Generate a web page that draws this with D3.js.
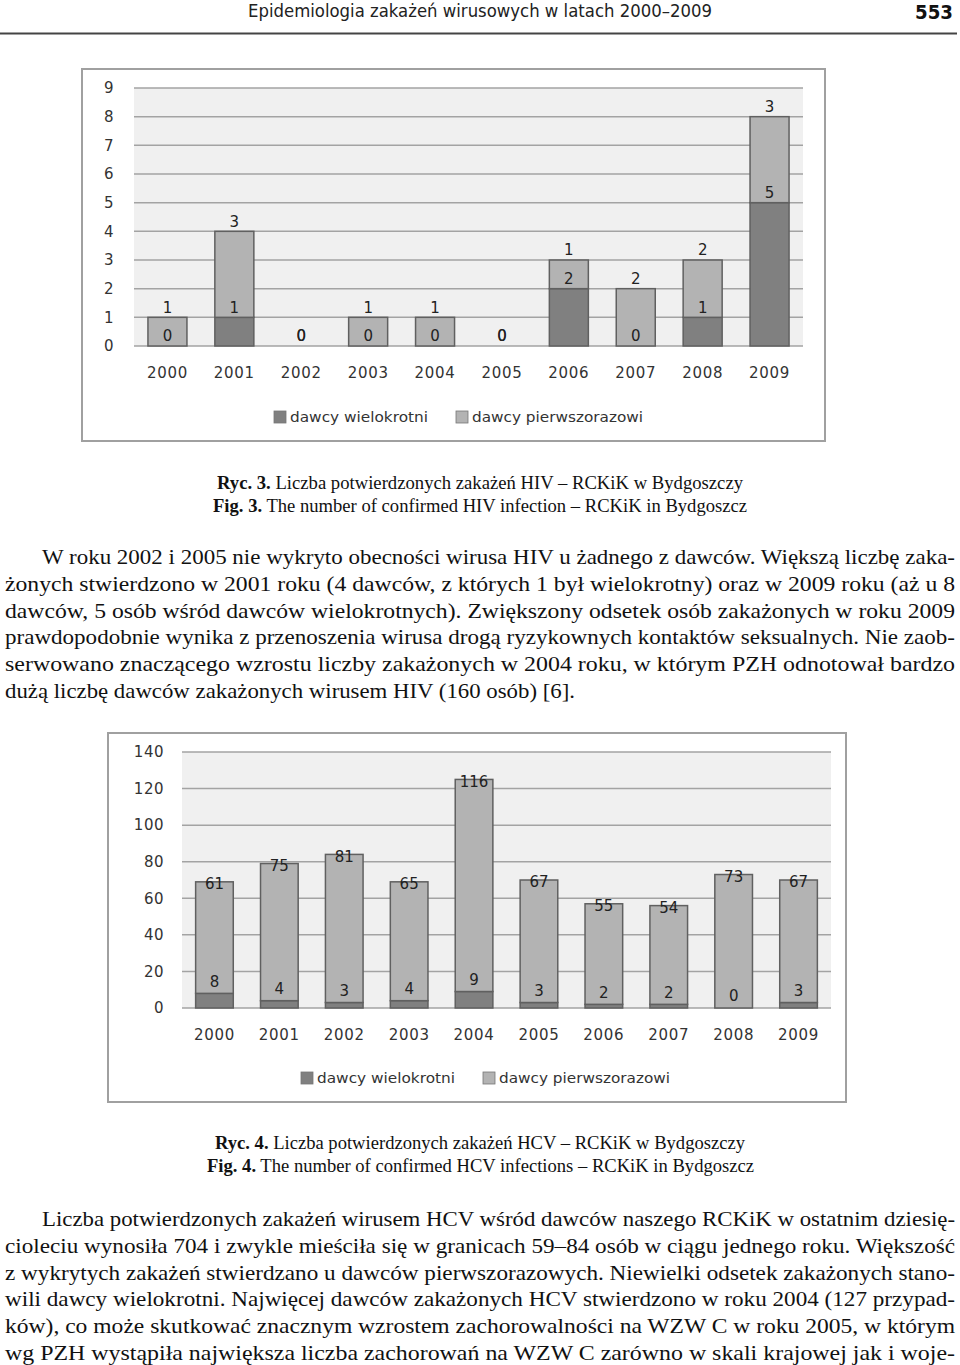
<!DOCTYPE html>
<html><head><meta charset="utf-8">
<script src="https://cdn.jsdelivr.net/npm/d3@7"></script>
<style>html,body{margin:0;padding:0;background:#fff;}svg{display:block;}</style>
</head><body>
<script>
// ---------- data ----------
const years = ["2000","2001","2002","2003","2004","2005","2006","2007","2008","2009"];
const hivRepeat = [0,1,0,0,0,0,2,0,1,5];        // dawcy wielokrotni
const hivFirst  = [1,3,0,1,1,0,1,2,2,3];        // dawcy pierwszorazowi
const hivTicks  = [0,1,2,3,4,5,6,7,8,9];
const hcvRepeat = [8,4,3,4,9,3,2,2,0,3];
const hcvFirst  = [61,75,81,65,116,67,55,54,73,67];
const hcvTicks  = [0,20,40,60,80,100,120,140];
const seriesNames = ["dawcy wielokrotni","dawcy pierwszorazowi"];

const headerTitle = "Epidemiologia zakażeń wirusowych w latach 2000–2009";
const pageNumber = "553";
const caption3 = [["Ryc. 3.", " Liczba potwierdzonych zakażeń HIV – RCKiK w Bydgoszczy"],
                  ["Fig. 3.", " The number of confirmed HIV infection – RCKiK in Bydgoszcz"]];
const caption4 = [["Ryc. 4.", " Liczba potwierdzonych zakażeń HCV – RCKiK w Bydgoszczy"],
                  ["Fig. 4.", " The number of confirmed HCV infections – RCKiK in Bydgoszcz"]];
const para1 = [
 "W roku 2002 i 2005 nie wykryto obecności wirusa HIV u żadnego z dawców. Większą liczbę zaka-",
 "żonych stwierdzono w 2001 roku (4 dawców, z których 1 był wielokrotny) oraz w 2009 roku (aż u 8",
 "dawców, 5 osób wśród dawców wielokrotnych). Zwiększony odsetek osób zakażonych w roku 2009",
 "prawdopodobnie wynika z przenoszenia wirusa drogą ryzykownych kontaktów seksualnych. Nie zaob-",
 "serwowano znaczącego wzrostu liczby zakażonych w 2004 roku, w którym PZH odnotował bardzo",
 "dużą liczbę dawców zakażonych wirusem HIV (160 osób) [6]."
];
const para2 = [
 "Liczba potwierdzonych zakażeń wirusem HCV wśród dawców naszego RCKiK w ostatnim dziesię-",
 "cioleciu wynosiła 704 i zwykle mieściła się w granicach 59–84 osób w ciągu jednego roku. Większość",
 "z wykrytych zakażeń stwierdzano u dawców pierwszorazowych. Niewielki odsetek zakażonych stano-",
 "wili dawcy wielokrotni. Najwięcej dawców zakażonych HCV stwierdzono w roku 2004 (127 przypad-",
 "ków), co może skutkować znacznym wzrostem zachorowalności na WZW C w roku 2005, w którym",
 "wg PZH wystąpiła największa liczba zachorowań na WZW C zarówno w skali krajowej jak i woje-"
];

// ---------- page ----------
const W = 960, H = 1365;
const svg = d3.select("body").append("svg").attr("width", W).attr("height", H);
svg.append("rect").attr("width", W).attr("height", H).attr("fill", "#fff");

const SANS = "'DejaVu Sans', Verdana, sans-serif";
const SERIF = "'Liberation Serif', 'Times New Roman', serif";

// header
svg.append("text").attr("x", 248).attr("y", 17).attr("font-family", SANS).attr("font-size", 18)
  .attr("fill", "#222").attr("textLength", 464).attr("lengthAdjust", "spacingAndGlyphs").text(headerTitle);
svg.append("text").attr("x", 915).attr("y", 19).attr("font-family", SANS).attr("font-size", 19)
  .attr("font-weight", "bold").attr("fill", "#111").attr("textLength", 38)
  .attr("lengthAdjust", "spacingAndGlyphs").text(pageNumber);
svg.append("line").attr("x1", 0).attr("x2", 957).attr("y1", 33.5).attr("y2", 33.5)
  .attr("stroke", "#444").attr("stroke-width", 2);

// ---------- chart builder ----------
function chart(cfg) {
  const g = svg.append("g");
  g.append("rect").attr("x", cfg.box[0]).attr("y", cfg.box[1])
    .attr("width", cfg.box[2] - cfg.box[0]).attr("height", cfg.box[3] - cfg.box[1])
    .attr("fill", "#fff").attr("stroke", "#a0a0a0").attr("stroke-width", 2);

  const x = d3.scaleBand().domain(years).range([cfg.plot[0], cfg.plot[2]])
    .paddingInner(cfg.pad).paddingOuter(cfg.pad / 2);
  const y = d3.scaleLinear().domain([0, cfg.ticks[cfg.ticks.length - 1]]).range([cfg.plot[3], cfg.plot[1]]);

  g.append("rect").attr("x", cfg.plot[0]).attr("y", cfg.plot[1])
    .attr("width", cfg.plot[2] - cfg.plot[0]).attr("height", cfg.plot[3] - cfg.plot[1])
    .attr("fill", "#f0f0f0");

  // gridlines
  g.selectAll(".grid").data(cfg.ticks).join("line")
    .attr("x1", cfg.plot[0]).attr("x2", cfg.plot[2])
    .attr("y1", d => y(d)).attr("y2", d => y(d))
    .attr("stroke", "#a3a3a3").attr("stroke-width", 1.5);

  // y axis labels via d3 axis
  const yAxis = d3.axisLeft(y).tickValues(cfg.ticks).tickSize(0).tickPadding(0);
  const ya = g.append("g").attr("transform", `translate(${cfg.yLabelX},0)`).call(yAxis);
  ya.select(".domain").remove();
  ya.selectAll("text").attr("font-family", SANS).attr("font-size", 15).attr("fill", "#333")
    .attr("letter-spacing", 0.5);

  // x axis labels
  const xAxis = d3.axisBottom(x).tickSize(0).tickPadding(0);
  const xa = g.append("g").attr("transform", `translate(0,${cfg.xLabelY})`).call(xAxis);
  xa.select(".domain").remove();
  xa.selectAll("text").attr("font-family", SANS).attr("font-size", 15).attr("fill", "#333")
    .attr("dy", "0.35em").attr("letter-spacing", 0.7);

  const rows = years.map((yr, i) => ({yr, a: cfg.rep[i], b: cfg.first[i]}));

  // bars
  g.selectAll(".barA").data(rows).join("rect")
    .attr("x", d => x(d.yr)).attr("width", x.bandwidth())
    .attr("y", d => y(d.a)).attr("height", d => y(0) - y(d.a))
    .attr("fill", "#808080").attr("stroke", "#606060").attr("stroke-width", d => d.a > 0 ? 1.5 : 0);
  g.selectAll(".barB").data(rows).join("rect")
    .attr("x", d => x(d.yr)).attr("width", x.bandwidth())
    .attr("y", d => y(d.a + d.b)).attr("height", d => y(d.a) - y(d.a + d.b))
    .attr("fill", "#b3b3b3").attr("stroke", "#606060").attr("stroke-width", d => d.b > 0 ? 1.5 : 0);

  // labels
  g.selectAll(".labB").data(rows).join("text")
    .attr("x", d => x(d.yr) + x.bandwidth() / 2)
    .attr("y", d => y(d.a + d.b) + cfg.offB).attr("dy", "0.35em")
    .attr("text-anchor", "middle").attr("font-family", SANS).attr("font-size", 15).attr("fill", "#222")
    .text(d => d.b);
  g.selectAll(".labA").data(rows).join("text")
    .attr("x", d => x(d.yr) + x.bandwidth() / 2)
    .attr("y", d => y(d.a) + cfg.offA).attr("dy", "0.35em")
    .attr("text-anchor", "middle").attr("font-family", SANS).attr("font-size", 15).attr("fill", "#222")
    .text(d => d.a);

  // legend
  const leg = [
    {name: seriesNames[0], fill: "#808080", sx: cfg.legend[0], tl: 138},
    {name: seriesNames[1], fill: "#b3b3b3", sx: cfg.legend[1], tl: 171}
  ];
  leg.forEach(l => {
    g.append("rect").attr("x", l.sx).attr("y", cfg.legendY - 6).attr("width", 12).attr("height", 12)
      .attr("fill", l.fill).attr("stroke", "#777").attr("stroke-width", 0.8);
    g.append("text").attr("x", l.sx + 16).attr("y", cfg.legendY).attr("dy", "0.35em")
      .attr("font-family", SANS).attr("font-size", 14).attr("fill", "#333")
      .attr("textLength", l.tl).attr("lengthAdjust", "spacingAndGlyphs").text(l.name);
  });
}

chart({box: [82, 69, 825, 441], plot: [134, 88, 803, 346], pad: 0.417, ticks: hivTicks,
  rep: hivRepeat, first: hivFirst, yLabelX: 114, xLabelY: 373, offA: -10, offB: -10,
  legend: [274, 456], legendY: 417});

chart({box: [108, 733, 846, 1102], plot: [182, 752, 831, 1008], pad: 0.42, ticks: hcvTicks,
  rep: hcvRepeat, first: hcvFirst, yLabelX: 164, xLabelY: 1035, offA: -12, offB: 2,
  legend: [301, 483], legendY: 1078});

// ---------- captions ----------
function caption(lines, ys, xs, lens) {
  lines.forEach((ln, i) => {
    const t = svg.append("text").attr("x", xs[i]).attr("y", ys[i]).attr("font-family", SERIF)
      .attr("font-size", 19.5).attr("fill", "#111")
      .attr("textLength", lens[i]).attr("lengthAdjust", "spacingAndGlyphs");
    t.append("tspan").attr("font-weight", "bold").text(ln[0]);
    t.append("tspan").text(ln[1]);
  });
}
caption(caption3, [489, 512], [217, 213], [526, 534]);
caption(caption4, [1149, 1172], [215, 207], [530, 547]);

// ---------- paragraphs ----------
function paragraph(lines, y0, step, lastLen) {
  lines.forEach((ln, i) => {
    const x0 = i === 0 ? 42 : 5;
    const len = (lastLen && i === lines.length - 1) ? lastLen : 955 - x0;
    svg.append("text").attr("x", x0).attr("y", y0 + i * step).attr("font-family", SERIF)
      .attr("font-size", 22).attr("fill", "#111")
      .attr("textLength", len).attr("lengthAdjust", "spacingAndGlyphs").text(ln);
  });
}
paragraph(para1, 564, 26.8, 570);
paragraph(para2, 1226, 26.8, null);
</script>
</body></html>
